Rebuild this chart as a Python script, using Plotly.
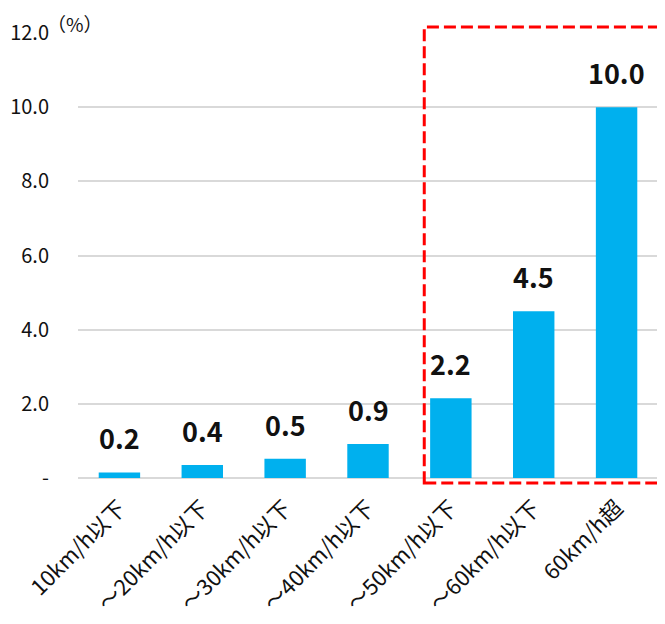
import plotly.graph_objects as go

categories = ["10km/h以下", "～20km/h以下", "～30km/h以下", "～40km/h以下",
              "～50km/h以下", "～60km/h以下", "60km/h超"]
values = [0.15, 0.35, 0.52, 0.92, 2.15, 4.5, 10.0]
value_labels = ["0.2", "0.4", "0.5", "0.9", "2.2", "4.5", "10.0"]
y_tickvals = [0, 2, 4, 6, 8, 10, 12]
y_ticktext = ["-", "2.0", "4.0", "6.0", "8.0", "10.0", "12.0"]

FONT = "Noto Sans CJK JP, Noto Sans, sans-serif"

fig = go.Figure()
fig.add_trace(go.Bar(
    x=categories, y=values,
    marker=dict(color="#00B0EE", line=dict(width=0)),
    hoverinfo="skip",
))

for c, v, t in zip(categories, values, value_labels):
    fig.add_annotation(x=c, y=v, text="<b>" + t + "</b>", showarrow=False,
                       yanchor="bottom", yshift=13,
                       font=dict(family=FONT, size=27, color="#111111"))

fig.add_annotation(xref="paper", yref="paper", x=-0.055, y=1.0, text="（%）",
                   showarrow=False, xanchor="left", yanchor="bottom", yshift=-5,
                   borderpad=0,
                   font=dict(family=FONT, size=19, color="#111111"))

fig.add_shape(type="rect", xref="paper", yref="paper",
              x0=0.597, x1=1.008, y0=-0.011, y1=1.0135,
              line=dict(color="#FF0000", width=3, dash="12px,5px"),
              fillcolor="rgba(0,0,0,0)")

fig.update_layout(
    width=665, height=624,
    margin=dict(l=70, r=15, t=25, b=154),
    plot_bgcolor="white", paper_bgcolor="white",
    bargap=0.5, showlegend=False,
    font=dict(family=FONT, color="#111111"),
    xaxis=dict(tickangle=-45, tickfont=dict(family=FONT, size=22, color="#111111"),
               showgrid=False, showline=False, ticks="", fixedrange=True,
               ticklabelstandoff=12, automargin=False),
    yaxis=dict(range=[0, 12], tickvals=y_tickvals, ticktext=y_ticktext,
               tickfont=dict(family=FONT, size=20, color="#111111"),
               showgrid=True, gridcolor="#D9D9D9", gridwidth=1.5,
               zeroline=True, zerolinecolor="#D9D9D9", zerolinewidth=1.5,
               showline=False, ticks="outside", ticklen=24, tickcolor="rgba(0,0,0,0)",
               automargin=False),
)

fig.write_html("out.html")
